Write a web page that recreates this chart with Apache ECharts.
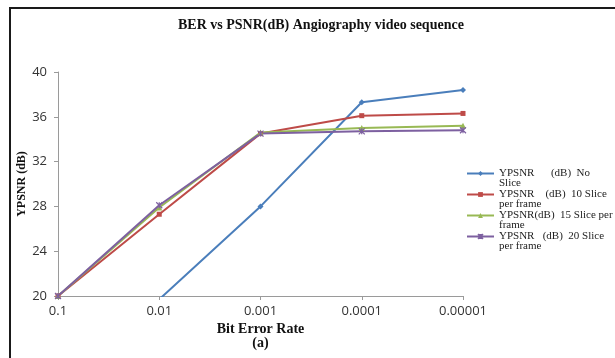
<!DOCTYPE html>
<html>
<head>
<meta charset="utf-8">
<script src="https://cdn.jsdelivr.net/npm/echarts@6/dist/echarts.min.js"></script>
<style>
  html, body { margin: 0; padding: 0; background: #fff; }
  #chart { width: 615px; height: 358px; }
</style>
</head>
<body>
<div id="chart"></div>
<script>
const berLabels = ['0.1', '0.01', '0.001', '0.0001', '0.00001'];
const noSlice = [null, 19.7, 28.0, 37.3, 38.4];
const slice10 = [20, 27.3, 34.5, 36.1, 36.3];
const slice15 = [20, 27.9, 34.6, 35.0, 35.2];
const slice20 = [20, 28.1, 34.5, 34.7, 34.8];
const seriesNames = [
  'YPSNR      (dB)  No\nSlice',
  'YPSNR    (dB)  10 Slice\nper frame',
  'YPSNR(dB)  15 Slice per\nframe',
  'YPSNR   (dB)  20 Slice\nper frame'
];

const serif = '"Liberation Serif", "Times New Roman", serif';
const sans = '"Open Sans", "Liberation Sans", sans-serif';
const crossPath = 'path://M0,0L10,10M10,0L0,10M5,0L5,10';

function mkSeries(name, data, color, symbol, size) {
  return {
    name,
    type: 'line',
    data,
    symbol,
    symbolSize: size,
    lineStyle: { width: 2, color },
    itemStyle: { color, borderColor: color, borderWidth: symbol === crossPath ? 1.2 : 0 },
    clip: true,
    z: 3
  };
}

const chart = echarts.init(document.getElementById('chart'), null, { renderer: 'canvas' });
chart.setOption({
  backgroundColor: '#ffffff',
  animation: false,
  title: {
    text: 'BER vs PSNR(dB) Angiography video sequence',
    left: 178,
    top: 18,
    padding: 0,
    textStyle: { fontFamily: serif, fontSize: 14, fontWeight: 'bold', color: '#111' }
  },
  graphic: [{
    type: 'rect',
    shape: { x: 10, y: 8, width: 700, height: 400 },
    style: { fill: 'none', stroke: '#1a1a1a', lineWidth: 2 },
    silent: true
  }],
  legend: {
    orient: 'vertical',
    left: 466,
    top: 158,
    padding: 0,
    itemGap: -10,
    itemWidth: 27,
    itemHeight: 6,
    formatter: name => '\n' + name,
    textStyle: { fontFamily: serif, fontSize: 11, color: '#222', lineHeight: 10 },
    data: seriesNames
  },
  grid: { left: 58, right: 152, top: 72, bottom: 62 },
  xAxis: {
    type: 'category',
    data: berLabels,
    boundaryGap: false,
    name: 'Bit Error Rate\n(a)',
    nameLocation: 'middle',
    nameGap: 26,
    nameMoveOverlap: false,
    nameTextStyle: { fontFamily: serif, fontSize: 14, fontWeight: 'bold', color: '#111', lineHeight: 14 },
    axisLine: { lineStyle: { color: '#9a9a9a', width: 1 } },
    axisTick: { show: true, length: 4, alignWithLabel: true, lineStyle: { color: '#9a9a9a' } },
    axisLabel: { fontFamily: sans, fontSize: 13, color: '#333', margin: 9 },
    splitLine: { show: false }
  },
  yAxis: {
    type: 'value',
    min: 20,
    max: 40,
    interval: 4,
    name: 'YPSNR (dB)',
    nameLocation: 'middle',
    nameGap: 30,
    nameMoveOverlap: false,
    nameTextStyle: { fontFamily: serif, fontSize: 12, fontWeight: 'bold', color: '#111' },
    axisLine: { show: true, lineStyle: { color: '#9a9a9a', width: 1 } },
    axisTick: { show: true, length: 4, lineStyle: { color: '#9a9a9a' } },
    axisLabel: { fontFamily: sans, fontSize: 13, color: '#333', margin: 11 },
    splitLine: { show: false }
  },
  series: [
    mkSeries(seriesNames[0], noSlice, '#4A7EBB', 'diamond', 6),
    mkSeries(seriesNames[1], slice10, '#BE4B48', 'rect', 5),
    mkSeries(seriesNames[2], slice15, '#98B954', 'triangle', 6),
    mkSeries(seriesNames[3], slice20, '#7D60A0', crossPath, 6)
  ]
});
</script>
</body>
</html>
